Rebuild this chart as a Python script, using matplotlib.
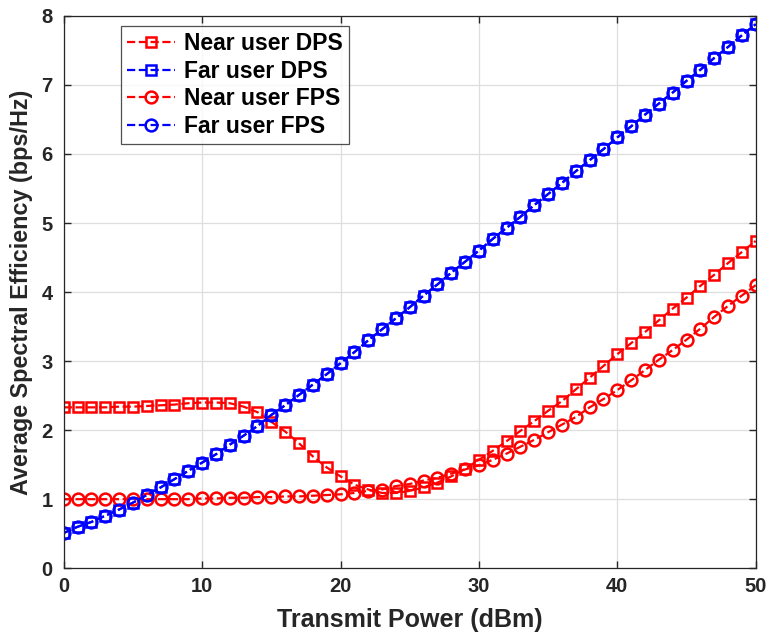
import numpy as np
import matplotlib
matplotlib.use('Agg')
import matplotlib.pyplot as plt

plt.rcParams['font.family'] = ['Liberation Sans', 'DejaVu Sans']
plt.rcParams['font.weight'] = 'bold'

# transmit power (dBm)
power = list(range(0, 51))

# near user, DPS
near_dps = [2.33, 2.33, 2.33, 2.33, 2.34, 2.34, 2.35, 2.36, 2.37, 2.39,
            2.40, 2.40, 2.39, 2.34, 2.26, 2.12, 1.98, 1.81, 1.62, 1.46,
            1.33, 1.21, 1.14, 1.09, 1.09, 1.12, 1.17, 1.24, 1.33, 1.44,
            1.57, 1.70, 1.84, 1.99, 2.13, 2.28, 2.42, 2.59, 2.76, 2.93,
            3.10, 3.26, 3.42, 3.59, 3.76, 3.92, 4.09, 4.25, 4.42, 4.58,
            4.74]

# far user, DPS and FPS (they sit on top of each other)
far_dps = [0.51, 0.60, 0.67, 0.76, 0.85, 0.95, 1.06, 1.17, 1.29, 1.41,
           1.53, 1.65, 1.79, 1.92, 2.06, 2.22, 2.36, 2.51, 2.66, 2.81,
           2.97, 3.13, 3.30, 3.46, 3.62, 3.78, 3.95, 4.11, 4.28, 4.44,
           4.60, 4.77, 4.93, 5.09, 5.26, 5.42, 5.58, 5.75, 5.91, 6.07,
           6.24, 6.40, 6.57, 6.73, 6.89, 7.06, 7.22, 7.39, 7.55, 7.72,
           7.88]
far_fps = list(far_dps)

# near user, FPS
near_fps = [1.00, 1.00, 1.00, 1.00, 1.00, 1.00, 1.00, 1.00, 1.00, 1.00,
            1.01, 1.01, 1.02, 1.02, 1.03, 1.03, 1.04, 1.04, 1.05, 1.06,
            1.07, 1.09, 1.12, 1.14, 1.19, 1.22, 1.27, 1.31, 1.37, 1.43,
            1.49, 1.57, 1.66, 1.76, 1.86, 1.97, 2.08, 2.19, 2.33, 2.45,
            2.58, 2.72, 2.87, 3.02, 3.16, 3.31, 3.47, 3.64, 3.80, 3.95,
            4.10]

fig = plt.figure(figsize=(7.68, 6.37), dpi=100)
ax = fig.add_axes([0.083, 0.108, 0.901, 0.867])

ax.plot(power, near_dps, 'r--s', lw=1.6, ms=6.5, mew=1.8, mfc='none', label='Near user DPS')
ax.plot(power, far_dps, 'b--s', lw=1.6, ms=6.5, mew=1.8, mfc='none', label='Far user DPS')
ax.plot(power, near_fps, 'r--o', lw=1.6, ms=8.5, mew=1.8, mfc='none', label='Near user FPS')
ax.plot(power, far_fps, 'b--o', lw=1.6, ms=8.5, mew=1.8, mfc='none', label='Far user FPS')

ax.set_xlim(0, 50)
ax.set_ylim(0, 8)
ax.set_xticks(range(0, 51, 10))
ax.set_yticks(range(0, 9))
ax.grid(True, color='#dedede', lw=0.9)
ax.tick_params(direction='in', top=True, right=True, labelsize=14.5, length=5, width=1,
               colors='#262626')
ax.tick_params(axis='x', pad=6)
ax.tick_params(axis='y', pad=8)
for s in ax.spines.values():
    s.set_color('#262626')
    s.set_linewidth(0.9)

ax.set_xlabel('Transmit Power (dBm)', fontsize=18, fontweight='bold', labelpad=9, color='#262626')
ax.set_ylabel('Average Spectral Efficiency (bps/Hz)', fontsize=16.8, fontweight='bold',
              labelpad=6, color='#262626')

leg = ax.legend(loc='upper left', bbox_to_anchor=(0.083, 0.981), fontsize=16.5,
                frameon=True, fancybox=False, edgecolor='#262626',
                handlelength=2.1, borderpad=0.25, labelspacing=0.2, handletextpad=0.4,
                borderaxespad=0)
leg.get_frame().set_linewidth(0.9)

fig.savefig('out.png', dpi=100)
